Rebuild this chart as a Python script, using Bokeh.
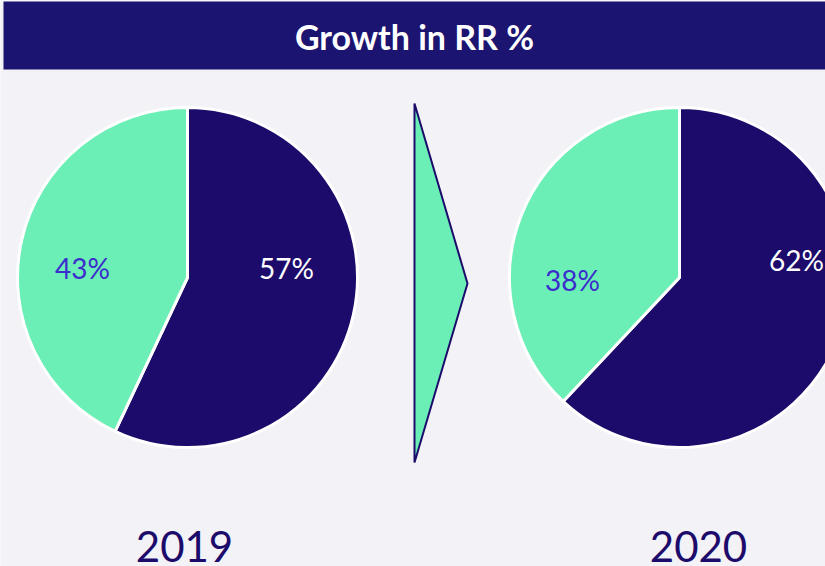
import math
from bokeh.plotting import figure
from bokeh.models import Range1d, ColumnDataSource
from bokeh.core.properties import value
from bokeh.embed import file_html
from bokeh.resources import INLINE

# ---- data ----
title_text = "Growth in RR %"
years = ["2019", "2020"]
dark_share = [57, 62]    # dark slice, %
green_share = [43, 38]   # green slice, %

# ---- style ----
BG = "#f2f2f7"
DARK = "#1c0b6b"
BAR = "#1b1470"
GREEN = "#6cefb6"
LABEL_BLUE = "#3a2dcc"
FONT = "Lato"
W, H = 825, 566
WIN_H = 566
pie_cx = [187, 679]
pie_cy = WIN_H - 277
R = 170
# label offsets in screen px (x right, y down) from pie centre
green_lbl_off = [(-105, -10), (-107, 2)]
dark_lbl_off = [(99, -10), (117, -18)]

p = figure(width=W, height=H, output_backend="svg", toolbar_location=None,
           x_range=Range1d(0, W), y_range=Range1d(WIN_H - H, WIN_H),
           min_border=0, background_fill_color=BG, border_fill_color=BG)
p.axis.visible = False
p.grid.visible = False
p.outline_line_color = None

# title bar
p.quad(left=3, right=830, bottom=WIN_H - 69, top=WIN_H - 1, fill_color=BAR, line_color=None)
p.text(x=[414], y=[WIN_H - 36], text=[title_text], text_font=value(FONT), text_font_style="bold",
       text_font_size="34px", text_color="white", text_align="center", text_baseline="middle")

# pies
for i in range(2):
    vals = [dark_share[i], green_share[i]]
    colors = [DARK, GREEN]
    total = sum(vals)
    cum = 0
    starts, ends = [], []
    for v in vals:
        starts.append(math.pi / 2 - 2 * math.pi * cum / total)
        cum += v
        ends.append(math.pi / 2 - 2 * math.pi * cum / total)
    src = ColumnDataSource(dict(x=[pie_cx[i]] * 2, y=[pie_cy] * 2, s=starts, e=ends, c=colors))
    p.wedge(x="x", y="y", radius=R, start_angle="s", end_angle="e", direction="clock",
            fill_color="c", line_color="white", line_width=3, source=src)
    gx, gy = green_lbl_off[i]
    dx, dy = dark_lbl_off[i]
    p.text(x=[pie_cx[i]], y=[pie_cy], text=[f"{green_share[i]}%"], x_offset=gx, y_offset=gy,
           text_font=value(FONT), text_font_size="28px", text_color=LABEL_BLUE,
           text_align="center", text_baseline="middle")
    p.text(x=[pie_cx[i]], y=[pie_cy], text=[f"{dark_share[i]}%"], x_offset=dx, y_offset=dy,
           text_font=value(FONT), text_font_size="28px", text_color="white",
           text_align="center", text_baseline="middle")

# arrow (decorative)
p.patch(x=[414, 467, 414], y=[WIN_H - 103, WIN_H - 283, WIN_H - 462],
        fill_color=GREEN, line_color=DARK, line_width=2)

# year labels
p.text(x=[184, 698], y=[WIN_H - 546] * 2, text=years, text_font=value(FONT),
       text_font_size="42px", text_color=DARK, text_align="center", text_baseline="middle")

open("out.html", "w").write(file_html(p, INLINE))
